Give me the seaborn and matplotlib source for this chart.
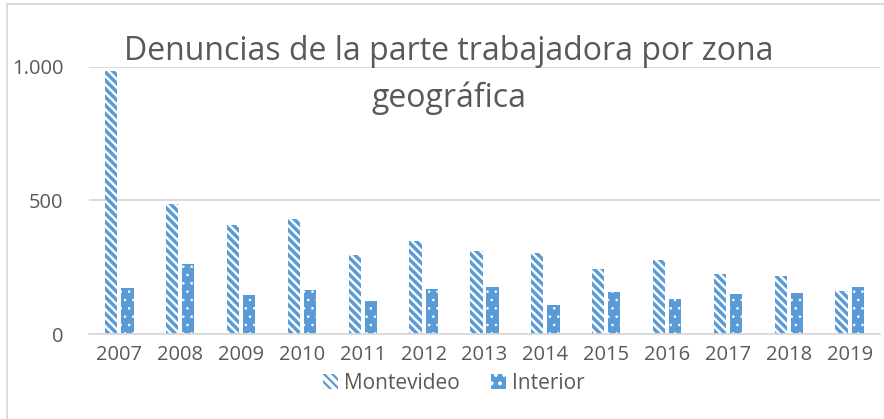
import matplotlib
matplotlib.use("Agg")
import matplotlib.pyplot as plt
import matplotlib.patches as mpatches
import seaborn as sns
import pandas as pd
from matplotlib.ticker import FuncFormatter

# datos
years = ["2007", "2008", "2009", "2010", "2011", "2012", "2013",
         "2014", "2015", "2016", "2017", "2018", "2019"]
montevideo = [985, 487, 408, 430, 296, 348, 311, 303, 243, 277, 224, 217, 161]
interior = [173, 262, 146, 165, 124, 168, 176, 109, 156, 130, 149, 155, 177]
series_names = ["Montevideo", "Interior"]
title = "Denuncias de la parte trabajadora por zona\ngeográfica"

df = pd.DataFrame({"Año": years * 2,
                   "Zona": [series_names[0]] * len(years) + [series_names[1]] * len(years),
                   "Denuncias": montevideo + interior})

blue = "#5B9BD5"
grey_txt = "#595959"
grid_c = "#D9D9D9"
stripes = "\\\\\\\\"
dots = ".."

sns.set_theme(style="white")
plt.rcParams["font.family"] = ["Open Sans", "DejaVu Sans"]
plt.rcParams["hatch.linewidth"] = 1.6


def style_patch(p, kind):
    if kind == 0:
        p.set_facecolor("white")
        p.set_edgecolor(blue)
        p.set_hatch(stripes)
        if hasattr(p, "set_hatch_linewidth"):
            p.set_hatch_linewidth(2.5)
    else:
        p.set_facecolor(blue)
        p.set_edgecolor("white")
        p.set_hatch(dots)
        if hasattr(p, "set_hatch_linewidth"):
            p.set_hatch_linewidth(0.6)
    p.set_linewidth(0)


fig = plt.figure(figsize=(8.84, 4.19), dpi=100)
ax = fig.add_axes([89 / 884, 1 - 334 / 419, 791 / 884, 267 / 419])

sns.barplot(data=df, x="Año", y="Denuncias", hue="Zona", ax=ax,
            palette=[blue, blue], width=0.53, gap=0.24, legend=False)

n = len(years)
for i, bar in enumerate(ax.patches[:2 * n]):
    style_patch(bar, 0 if i < n else 1)

ax.set_ylim(0, 1000)
ax.set_yticks([0, 500, 1000])
ax.yaxis.set_major_formatter(FuncFormatter(lambda v, p: f"{int(v):,}".replace(",", ".")))
ax.grid(axis="y", color=grid_c, linewidth=1.3)
ax.set_axisbelow(True)
for s in ["top", "right", "left"]:
    ax.spines[s].set_visible(False)
ax.spines["bottom"].set_color(grid_c)
ax.spines["bottom"].set_linewidth(1.3)
ax.set_xlabel("")
ax.set_ylabel("")
ax.tick_params(axis="both", colors=grey_txt, labelsize=14.5, length=0)
ax.tick_params(axis="y", pad=18.5)
ax.tick_params(axis="x", pad=8)

fig.text(449 / 884, 1 - 75 / 419, title, ha="center", va="center",
         fontsize=23, color=grey_txt, linespacing=1.52)

h1 = mpatches.Patch()
h2 = mpatches.Patch()
style_patch(h1, 0)
style_patch(h2, 1)
fig.legend([h1, h2], series_names, loc="center", bbox_to_anchor=(454 / 884, 1 - 383 / 419),
           ncol=2, frameon=False, fontsize=15, labelcolor=grey_txt,
           handlelength=0.7, handleheight=0.7, handletextpad=0.3, columnspacing=1.5)

# marco del gráfico
fig.add_artist(mpatches.Rectangle((7 / 884, -0.1), 1.0, 1 - 4 / 419 + 0.1,
                                  transform=fig.transFigure, fill=False,
                                  edgecolor=grid_c, linewidth=1.3))

fig.savefig("out.png", dpi=100)
